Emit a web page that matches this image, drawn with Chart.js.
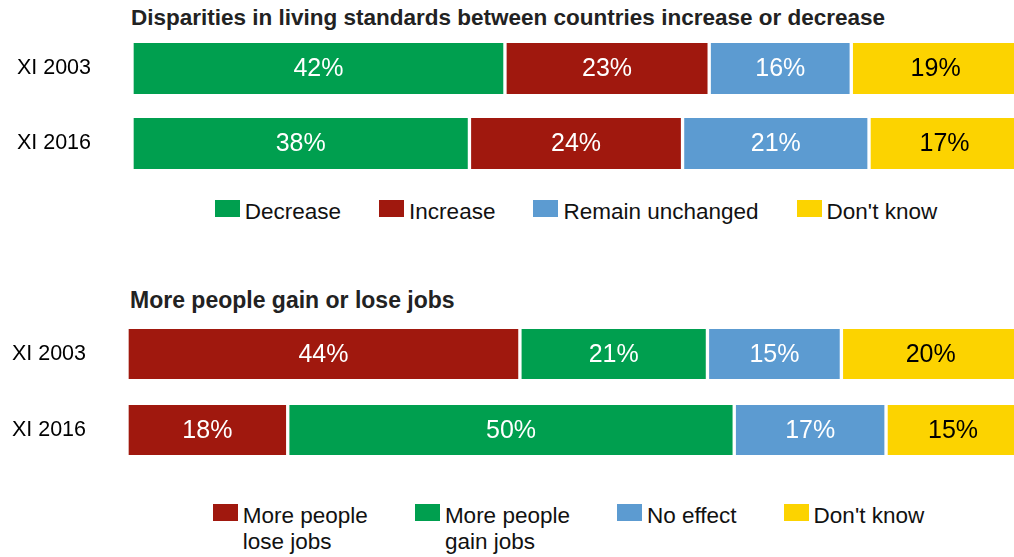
<!DOCTYPE html>
<html>
<head>
<meta charset="utf-8">
<script src="https://cdn.jsdelivr.net/npm/chart.js@4/dist/chart.umd.min.js"></script>
<style>
  html, body { margin: 0; padding: 0; background: #fff; overflow: hidden; width: 1014px; height: 557px; }
  body { position: relative; font-family: 'Liberation Sans', Arial, sans-serif; color: #111; }
  .wrap { position: absolute; left: 0; width: 1020px; }
  .title { position: absolute; font-weight: bold; color: #222; white-space: nowrap; line-height: 1; }
  .legend { position: absolute; display: flex; justify-content: center; align-items: flex-start; font-size: 22.5px; }
  .legend-item { display: flex; align-items: flex-start; line-height: 26px; }
  .legend-box { width: 25px; height: 17px; margin-right: 5px; margin-top: 1px; flex: none; }
</style>
</head>
<body>
<div class="title" id="title1" style="left:131px; top:7px; font-size:22.5px;"></div>
<div class="wrap" style="top:0px; height:190px;"><canvas id="chart1"></canvas></div>
<div class="legend" id="legend1" style="left:132px; width:888px; top:199px; gap:38px;"></div>

<div class="title" id="title2" style="left:130px; top:289px; font-size:23px;"></div>
<div class="wrap" style="top:280px; height:200px;"><canvas id="chart2"></canvas></div>
<div class="legend" id="legend2" style="left:122px; width:893px; top:503px; gap:47px;"></div>

<script>
const years = ['XI 2003', 'XI 2016'];

// chart 1: disparities in living standards
const title1 = 'Disparities in living standards between countries increase or decrease';
const labels1 = ['Decrease', 'Increase', 'Remain unchanged', "Don't know"];
const decrease = [42, 38];
const increase = [23, 24];
const unchanged = [16, 21];
const dontKnow1 = [19, 17];

// chart 2: jobs
const title2 = 'More people gain or lose jobs';
const labels2 = [['More people', 'lose jobs'], ['More people', 'gain jobs'], ['No effect'], ["Don't know"]];
const loseJobs = [44, 18];
const gainJobs = [21, 50];
const noEffect = [15, 17];
const dontKnow2 = [20, 15];

const GREEN = '#009f4f';
const RED = '#a0180e';
const BLUE = '#5c9bd1';
const YELLOW = '#fcd300';

// percent labels in the middle of each segment
const valueLabels = {
  id: 'valueLabels',
  afterDatasetsDraw(chart) {
    const ctx = chart.ctx;
    ctx.save();
    ctx.font = '25px "Liberation Sans", Arial, sans-serif';
    ctx.textAlign = 'center';
    ctx.textBaseline = 'middle';
    chart.data.datasets.forEach((ds, i) => {
      chart.getDatasetMeta(i).data.forEach((bar, j) => {
        const c = bar.getCenterPoint();
        ctx.fillStyle = ds.labelColor;
        ctx.fillText(ds.data[j] + '%', c.x, c.y + 1);
      });
    });
    ctx.restore();
  }
};

function makeChart(id, datasets, axisWidth, thickness, padTop, padBottom) {
  return new Chart(document.getElementById(id), {
    type: 'bar',
    data: {
      labels: years,
      datasets: datasets.map(d => ({
        label: d.label,
        data: d.data,
        backgroundColor: d.color,
        labelColor: d.color === YELLOW ? '#000' : '#fff',
        borderColor: '#fff',
        borderWidth: { left: 2, right: 2, top: 0, bottom: 0 },
        borderSkipped: false,
        barThickness: thickness
      }))
    },
    options: {
      indexAxis: 'y',
      responsive: true,
      maintainAspectRatio: false,
      animation: false,
      layout: { padding: { top: padTop, bottom: padBottom, left: 0, right: 0 } },
      plugins: { legend: { display: false }, tooltip: { enabled: false } },
      scales: {
        x: { stacked: true, min: 0, max: 100, display: false },
        y: {
          stacked: true,
          grid: { display: false },
          border: { display: false },
          afterFit: scale => {
            scale.width = axisWidth;
            scale.paddingTop = 0;
            scale.paddingBottom = 0;
          },
          ticks: {
            color: '#000',
            padding: 33,
            font: { family: "'Liberation Sans', Arial, sans-serif", size: 21.5 }
          }
        }
      }
    },
    plugins: [valueLabels]
  });
}

makeChart('chart1', [
  { label: labels1[0], data: decrease, color: GREEN },
  { label: labels1[1], data: increase, color: RED },
  { label: labels1[2], data: unchanged, color: BLUE },
  { label: labels1[3], data: dontKnow1, color: YELLOW }
], 132, 51, 31, 9);

makeChart('chart2', [
  { label: labels2[0].join(' '), data: loseJobs, color: RED },
  { label: labels2[1].join(' '), data: gainJobs, color: GREEN },
  { label: labels2[2][0], data: noEffect, color: BLUE },
  { label: labels2[3][0], data: dontKnow2, color: YELLOW }
], 127, 50, 36, 12);

function buildLegend(id, labels, colors) {
  const el = document.getElementById(id);
  labels.forEach((lab, i) => {
    const lines = Array.isArray(lab) ? lab : [lab];
    el.innerHTML += `<div class="legend-item"><div class="legend-box" style="background:${colors[i]}"></div><div>${lines.join('<br>')}</div></div>`;
  });
}

document.getElementById('title1').textContent = title1;
document.getElementById('title2').textContent = title2;
buildLegend('legend1', labels1, [GREEN, RED, BLUE, YELLOW]);
buildLegend('legend2', labels2, [RED, GREEN, BLUE, YELLOW]);
</script>
</body>
</html>
